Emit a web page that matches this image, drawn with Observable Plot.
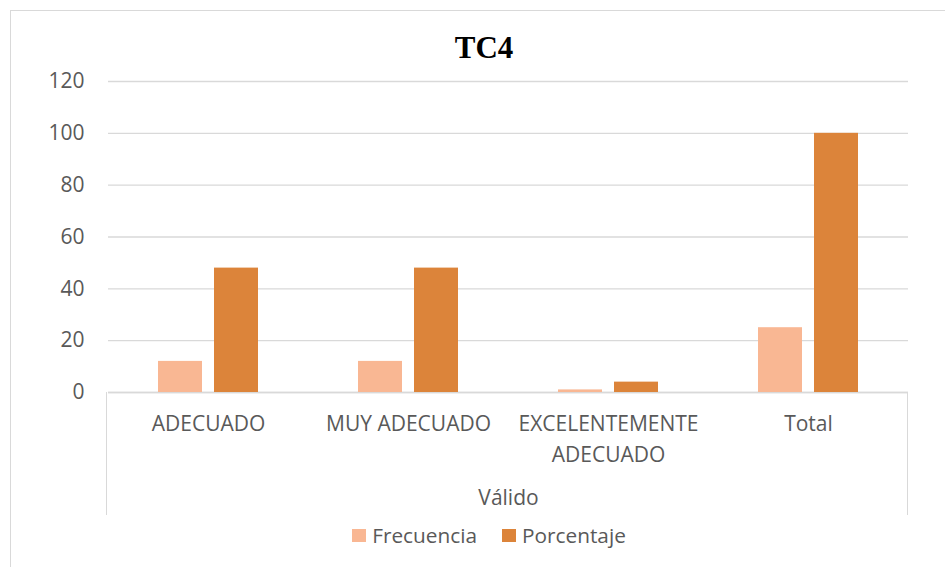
<!DOCTYPE html>
<html>
<head>
<meta charset="utf-8">
<script src="https://cdn.jsdelivr.net/npm/d3@7"></script>
<script src="https://cdn.jsdelivr.net/npm/@observablehq/plot@0.6"></script>
<style>
  body { margin: 0; background: #fff; }
  #wrap { position: relative; width: 945px; height: 567px; overflow: hidden; font-family: "Open Sans", sans-serif; color: #595959; }
  #frame { position: absolute; left: 10px; top: 10px; width: 960px; height: 600px; border: 1px solid #d9d9d9; box-sizing: border-box; }
  #title { position: absolute; left: 10px; width: 948px; top: 28px; text-align: center; font-family: "Liberation Serif", "Times New Roman", serif; font-weight: bold; font-size: 31px; color: #000; line-height: 40px; }
  #chart { position: absolute; left: 0; top: 60px; }
  #box { position: absolute; left: 106px; top: 392px; width: 802px; height: 123px; border-left: 1px solid #d9d9d9; border-right: 1px solid #d9d9d9; box-sizing: border-box; }
  #legend { position: absolute; left: 0; width: 978px; top: 520px; display: flex; justify-content: center; align-items: center; font-size: 20.8px; line-height: 30px; }
  .item { display: flex; align-items: center; margin: 0 12.5px; }
  .sw { width: 14px; height: 13px; margin-right: 6px; }
</style>
</head>
<body>
<div id="wrap">
  <div id="frame"></div>
  <div id="title">TC4</div>
  <div id="box"></div>
  <div id="chart"></div>
  <div id="legend"></div>
</div>
<script>
const categories = ["ADECUADO", "MUY ADECUADO", "EXCELENTEMENTE ADECUADO", "Total"];
const series = ["Frecuencia", "Porcentaje"];
const frecuencia = [12, 12, 1, 25];
const porcentaje = [48, 48, 4, 100];
const yTicks = [0, 20, 40, 60, 80, 100, 120];
const colors = ["#F9B793", "#DC843A"];
const groupLabel = "Válido";

const rows = [];
categories.forEach((c, i) => {
  rows.push({category: c, series: series[0], value: frecuencia[i]});
  rows.push({category: c, series: series[1], value: porcentaje[i]});
});

const chart = Plot.plot({
  width: 945,
  height: 460,
  marginTop: 21,
  marginBottom: 128,
  marginLeft: 107,
  marginRight: 37,
  style: {fontFamily: "Open Sans, sans-serif", fontSize: "21px", color: "#595959", background: "transparent"},
  fx: {domain: categories, paddingInner: 0, paddingOuter: 0},
  x: {domain: series, paddingInner: 0.21, paddingOuter: 0.86, axis: null},
  y: {domain: [0, 120]},
  color: {domain: series, range: colors},
  marks: [
    Plot.gridY(yTicks, {stroke: "#d9d9d9", strokeOpacity: 1, strokeWidth: 1.3}),
    Plot.ruleY([0], {stroke: "#d9d9d9", strokeWidth: 1.5}),
    Plot.barY(rows, {fx: "category", x: "series", y: "value", fill: "series"}),
    Plot.axisY(yTicks, {tickSize: 0, tickPadding: 24, label: null, fontSize: 21, fill: "#595959"}),
    Plot.axisFx({anchor: "bottom", tickSize: 0, tickPadding: 17, lineWidth: 10, lineHeight: 1.45, fontSize: 21, fill: "#595959",
      label: groupLabel, labelAnchor: "center", labelOffset: 112})
  ]
});
document.getElementById("chart").appendChild(chart);

const legend = document.getElementById("legend");
series.forEach((s, i) => {
  const item = document.createElement("div");
  item.className = "item";
  const sw = document.createElement("span");
  sw.className = "sw";
  sw.style.background = colors[i];
  const t = document.createElement("span");
  t.textContent = s;
  item.appendChild(sw);
  item.appendChild(t);
  legend.appendChild(item);
});
</script>
</body>
</html>
